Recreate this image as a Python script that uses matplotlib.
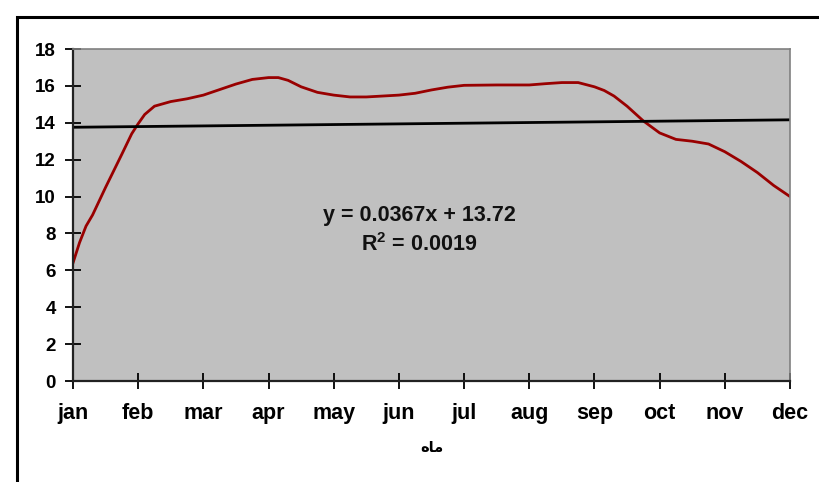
import matplotlib.pyplot as plt
from matplotlib.patches import Rectangle

# month labels and values
months = ['jan', 'feb', 'mar', 'apr', 'may', 'jun', 'jul', 'aug', 'sep', 'oct', 'nov', 'dec']
month_pos = list(range(1, 13))

# curve sampled at fractional month positions
x_vals = [1.0, 1.1, 1.2, 1.3, 1.5, 1.75, 1.9, 2.0, 2.1, 2.25, 2.5, 2.75, 3.0, 3.25, 3.5, 3.75,
          4.0, 4.15, 4.3, 4.5, 4.75, 5.0, 5.25, 5.5, 5.75, 6.0, 6.25, 6.5, 6.75, 7.0, 7.5,
          8.0, 8.25, 8.5, 8.75, 9.0, 9.15, 9.3, 9.5, 9.75, 10.0, 10.25, 10.5, 10.75, 11.0,
          11.25, 11.5, 11.75, 12.0]
y_vals = [6.4, 7.5, 8.4, 9.0, 10.5, 12.3, 13.4, 13.95, 14.45, 14.9, 15.15, 15.3, 15.5, 15.8, 16.1, 16.35,
          16.45, 16.45, 16.3, 15.95, 15.65, 15.5, 15.4, 15.4, 15.45, 15.5, 15.6, 15.78, 15.93, 16.03, 16.05,
          16.05, 16.12, 16.18, 16.18, 15.95, 15.75, 15.45, 14.9, 14.1, 13.45, 13.1, 13.0, 12.85, 12.43,
          11.9, 11.3, 10.6, 10.0]

# trend line from the chart label
slope = 0.0367
intercept = 13.72
eq_text = 'y = 0.0367x + 13.72'
r2_text = 'R$^2$ = 0.0019'
x_title = '\uFEE9\uFE8E\uFEE3'  # ماه, pre-shaped

plt.rcParams['font.family'] = ['Liberation Sans', 'DejaVu Sans']
plt.rcParams['mathtext.default'] = 'regular'

fig = plt.figure(figsize=(8.2, 4.82), dpi=100)
fig.patches.append(Rectangle((17 / 820, -0.1), 1.2, 1 - 17 / 482 + 0.1, transform=fig.transFigure,
                             fill=False, edgecolor='black', linewidth=2.2))

ax = fig.add_axes([73 / 820, 1 - 381 / 482, (790 - 73) / 820, (381 - 49) / 482])
ax.set_facecolor('#c0c0c0')

ax.plot(x_vals, y_vals, color='#990000', linewidth=2.0, solid_joinstyle='round')
trend_x = [1, 12]
ax.plot(trend_x, [slope * t + intercept for t in trend_x], color='black', linewidth=2.0)

ax.text(6.31, 9.0, eq_text, ha='center', va='center', fontsize=15.5, fontweight='bold', color='#111111')
ax.text(6.31, 7.4, r2_text, ha='center', va='center', fontsize=15.5, fontweight='bold', color='#111111')

ax.set_xlim(1, 12)
ax.set_ylim(0, 18)
ax.set_xticks(month_pos)
ax.set_xticklabels(months)
ax.set_yticks(range(0, 19, 2))

for side in ['top', 'right']:
    ax.spines[side].set_color('#808080')
    ax.spines[side].set_linewidth(1.2)
for side in ['left', 'bottom']:
    ax.spines[side].set_color('#222222')
    ax.spines[side].set_linewidth(1.6)

ax.tick_params(axis='y', direction='inout', length=11, width=1.3, labelsize=13.5, pad=7)
ax.tick_params(axis='x', direction='inout', length=11, width=1.3, labelsize=15.5, pad=10)
for lbl in ax.get_xticklabels() + ax.get_yticklabels():
    lbl.set_fontweight('bold')

ax.set_xlabel(x_title, fontsize=10.5, fontweight='bold', family=['DejaVu Sans'], labelpad=12)

fig.savefig('out.png', dpi=100)
